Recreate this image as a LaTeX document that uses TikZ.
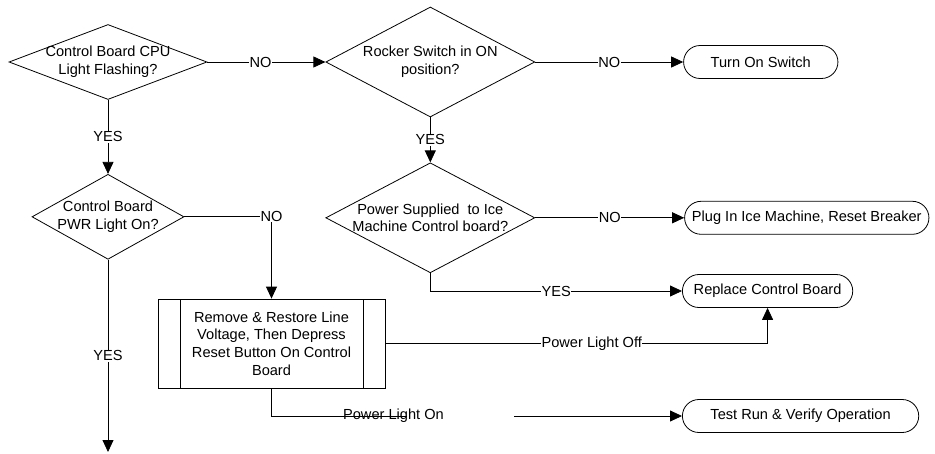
\documentclass[tikz,border=0pt]{standalone}
\usepackage{fontspec}
\setmainfont{Liberation Sans}
\usetikzlibrary{shapes.geometric, shapes.misc, arrows.meta, positioning}

\begin{document}
\begin{tikzpicture}[
  x=1pt, y=-1pt, line width=0.8pt,
  font=\fontsize{14.6pt}{17.6pt}\selectfont,
  decision/.style={draw, diamond, align=center, inner xsep=-70pt, inner ysep=-30pt},
  term/.style={draw, rounded rectangle, minimum height=33pt, align=center},
  sub/.style={draw, rectangle, minimum width=227pt, minimum height=89pt, align=center,
              path picture={
                \draw ([xshift=22pt]path picture bounding box.north west)
                   -- ([xshift=22pt]path picture bounding box.south west);
                \draw ([xshift=-22pt]path picture bounding box.north east)
                   -- ([xshift=-22pt]path picture bounding box.south east);}},
  arr/.style={-{Triangle[length=12pt, width=11pt]}},
  lbl/.style={fill=white, inner sep=0.5pt}
]
  \useasboundingbox (0,0) rectangle (935,453);

  \node[decision, minimum width=198pt, minimum height=75pt] (cpu) at (108,62) {Control Board CPU\\Light Flashing?};
  \node[decision, minimum width=209pt, minimum height=110pt, right=118pt of cpu] (rocker) {Rocker Switch in ON\\position?};
  \node[term, minimum width=161pt, right=148pt of rocker] (switch) {Turn On Switch};
  \node[decision, minimum width=209pt, minimum height=110pt, below=45pt of rocker] (supply) {Power Supplied~ to Ice\\Machine Control board?};
  \node[term, minimum width=251pt, right=149pt of supply] (plug) {Plug In Ice Machine, Reset Breaker};
  \node[decision, minimum width=152pt, minimum height=85pt, below=74pt of cpu] (pwr) {Control Board\\PWR Light On?};
  \node[sub] (reset) at (271.5,343.5) {Remove \& Restore Line\\Voltage, Then Depress\\Reset Button On Control\\Board};
  \node[term, minimum width=177pt, anchor=west] (replace) at (682,291) {Replace Control Board};
  \node[term, minimum width=243pt, anchor=west] (test) at (682,416) {Test Run \& Verify Operation};
  \coordinate (yesend) at (108,452);
  \coordinate (onend) at (407,416);
  \coordinate (onstart) at (514,416);

  \draw[arr] (cpu.east) -- node[lbl, pos=0.45]{NO} (rocker.west);
  \draw[arr] (rocker.east) -- node[lbl]{NO} (switch.west);
  \draw[arr] (rocker.south) -- node[lbl]{YES} (supply.north);
  \draw[arr] (supply.east) -- node[lbl]{NO} (plug.west);
  \draw[arr] (supply.south) |- node[lbl, pos=0.75]{YES} (replace.west);
  \draw[arr] (cpu.south) -- node[lbl]{YES} (pwr.north);
  \draw[arr] (pwr.east) -| node[lbl]{NO} (reset.north);
  \draw[arr] (reset.east) -| node[lbl, pos=0.27]{Power Light Off} (replace.south);
  \draw (reset.south) |- node[pos=0.95, inner sep=0pt]{Power Light On} (onend);
  \draw[arr] (onstart) -- (test.west);
  \draw[arr] (pwr.south) -- node[lbl]{YES} (yesend);
\end{tikzpicture}
\end{document}
